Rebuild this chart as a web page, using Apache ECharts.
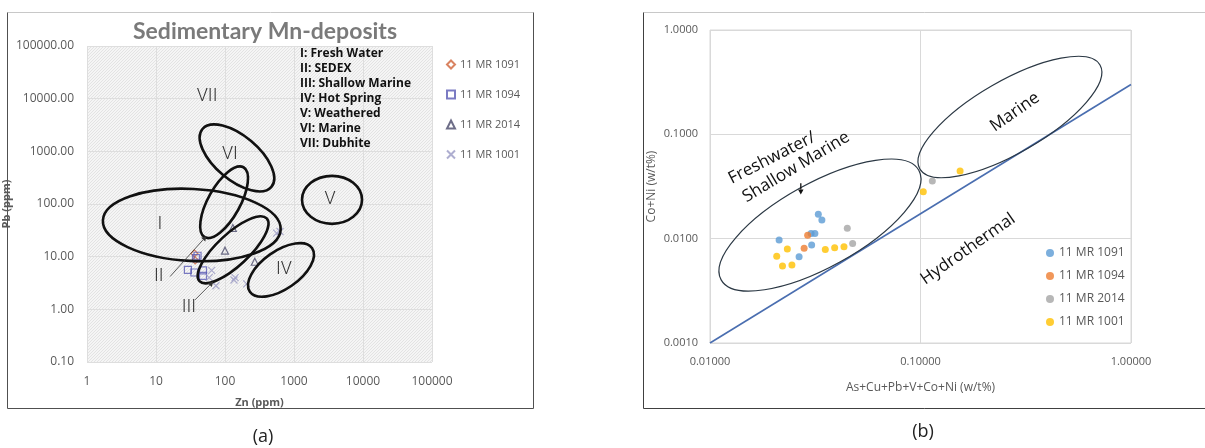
<!DOCTYPE html>
<html>
<head>
<meta charset="utf-8">
<script src="https://cdn.jsdelivr.net/npm/echarts@6/dist/echarts.min.js"></script>
<style>
  html, body { margin: 0; background: #fff; }
  #chart { width: 1205px; height: 448px; }
</style>
</head>
<body>
<div id="chart"></div>
<script>
// ---- panel (a): Zn vs Pb (ppm), log-log ----
const znRange = [1, 100000]
const pbRange = [0.1, 100000]
const a1091 = [[36, 11.5], [37, 8.5]]
const a1094 = [[29, 5.6], [36, 5.0], [40, 10.4], [38, 9.4], [48, 5.5], [48, 4.3]]
const a2014 = [[130, 35], [100, 13], [270, 8]]
const a1001 = [[64, 5.5], [59, 4.0], [74, 2.8], [140, 4.0], [135, 3.6], [206, 3.05], [627, 30], [560, 28]]

// fields: centre x, centre y, half-axis px, half-axis px, tilt deg
const aFields = [
  [33, 40, 89, 36, -3],      // I
  [97, 108, 40, 16, 61],
  [149, 750, 45, 22, -40],   // VI
  [131, 13.5, 46, 16, 43],   // II / III
  [648, 5.6, 38, 19, 35],    // IV
  [3556, 120, 30, 24, 0]     // V
]
const aLabelPos = [[55, 10770], [118, 855], [3325, 120], [11.4, 40], [11, 4.14], [30, 1.07], [716, 5.6]]
const aLabelText = ['VII', 'VI', 'V', 'I', 'II', 'III', 'IV']
const aArrows = [[16, 4.2, 54, 24.8], [36.7, 1.51, 67.7, 3.37]]
const aKey = ['I: Fresh Water', 'II: SEDEX', 'III: Shallow Marine', 'IV: Hot Spring', 'V: Weathered', 'VI: Marine', 'VII: Dubhite']

// ---- panel (b): sum of metals vs Co+Ni (w/t%), log-log ----
const sumRange = [0.01, 1]
const coniRange = [0.001, 1]
const b1091 = [[0.0213, 0.0097], [0.0327, 0.0171], [0.034, 0.0151], [0.0315, 0.0112], [0.0302, 0.0112], [0.0304, 0.0087], [0.0265, 0.0067]]
const b1094 = [[0.0291, 0.0108], [0.028, 0.0081]]
const b2014 = [[0.0449, 0.01255], [0.0476, 0.009], [0.1138, 0.0357]]
const b1001 = [[0.02075, 0.0068], [0.0233, 0.00795], [0.0221, 0.00546], [0.0245, 0.00558], [0.0353, 0.00789], [0.0391, 0.00818], [0.0433, 0.00836], [0.1031, 0.0282], [0.1542, 0.0445]]
const bBoundary = [[0.01, 0.001], [1, 0.3]]
const bFields = [
  [0.0333, 0.0135, 113, 42, 29],   // freshwater / shallow marine
  [0.266, 0.1466, 104, 36, 30]     // marine
]
const bLabelPos = [[0.0197, 0.0593], [0.02565, 0.0486], [0.281, 0.1636], [0.168, 0.00794]]
const bLabelText = ['Freshwater/', 'Shallow Marine', 'Marine', 'Hydrothermal']
const bLabelTilt = [27, 31, 35, 35]
const bArrows = [[0.027, 0.034, 0.027, 0.0265]]

const names = ['11 MR 1091', '11 MR 1094', '11 MR 2014', '11 MR 1001']

// hatched background for panel (a)
const hatch = document.createElement('canvas')
hatch.width = 3; hatch.height = 3
const hc = hatch.getContext('2d')
hc.fillStyle = '#f5f5f5'; hc.fillRect(0, 0, 3, 3)
hc.fillStyle = '#e3e3e3'
hc.fillRect(0, 2, 1, 1); hc.fillRect(1, 1, 1, 1); hc.fillRect(2, 0, 1, 1)

const fontA = '"Open Sans", "Noto Sans", sans-serif'

function fieldSeries(idx, list, color, width) {
  return {
    type: 'custom', xAxisIndex: idx, yAxisIndex: idx, silent: true, z: 4,
    encode: { x: 0, y: 1 }, data: list,
    renderItem: (p, api) => {
      const c = api.coord([api.value(0), api.value(1)])
      return {
        type: 'ellipse', x: c[0], y: c[1], rotation: api.value(4) * Math.PI / 180,
        shape: { cx: 0, cy: 0, rx: api.value(2), ry: api.value(3) },
        style: { fill: 'none', stroke: color, lineWidth: width }
      }
    }
  }
}

function labelSeries(idx, list, texts, tilts, font, color) {
  return {
    type: 'custom', xAxisIndex: idx, yAxisIndex: idx, silent: true, z: 5,
    encode: { x: 0, y: 1 }, data: list,
    renderItem: (p, api) => {
      const c = api.coord([api.value(0), api.value(1)])
      return {
        type: 'text', x: c[0], y: c[1],
        rotation: (tilts ? tilts[p.dataIndex] : 0) * Math.PI / 180,
        style: { text: texts[p.dataIndex], font: font, fill: color, align: 'center', verticalAlign: 'middle' }
      }
    }
  }
}

function arrowSeries(idx, list, color, width, head) {
  return {
    type: 'custom', xAxisIndex: idx, yAxisIndex: idx, silent: true, z: 5,
    encode: { x: [0, 2], y: [1, 3] }, data: list,
    renderItem: (p, api) => {
      const s = api.coord([api.value(0), api.value(1)])
      const e = api.coord([api.value(2), api.value(3)])
      const ang = Math.atan2(e[1] - s[1], e[0] - s[0])
      const h = head, w = head * 0.55
      const bx = e[0] - h * Math.cos(ang), by = e[1] - h * Math.sin(ang)
      return {
        type: 'group',
        children: [
          { type: 'line', shape: { x1: s[0], y1: s[1], x2: bx, y2: by }, style: { stroke: color, lineWidth: width } },
          { type: 'polygon', shape: { points: [e, [bx - w * Math.sin(ang), by + w * Math.cos(ang)], [bx + w * Math.sin(ang), by - w * Math.cos(ang)]] }, style: { fill: color } }
        ]
      }
    }
  }
}

const chart = echarts.init(document.getElementById('chart'))

const logLabelA = { color: '#595959', fontSize: 12, fontFamily: fontA }
const logLabelB = { color: '#595959', fontSize: 11, fontFamily: fontA }

chart.setOption({
  backgroundColor: '#fff',
  animation: false,
  grid: [
    { left: 87, top: 46, width: 345, height: 316, show: true, borderWidth: 0, backgroundColor: { image: hatch, repeat: 'repeat' } },
    { left: 710, top: 30, width: 421, height: 313, show: true, borderColor: '#d9d9d9', borderWidth: 1 }
  ],
  xAxis: [
    {
      type: 'log', logBase: 10, gridIndex: 0, min: znRange[0], max: znRange[1],
      name: 'Zn (ppm)', nameLocation: 'middle', nameGap: 35,
      nameTextStyle: { color: '#595959', fontSize: 11, fontWeight: 'bold', fontFamily: fontA },
      axisLine: { show: false }, axisTick: { show: false },
      axisLabel: Object.assign({ margin: 14, formatter: v => String(Math.round(v)) }, logLabelA),
      splitLine: { show: true, lineStyle: { color: '#dedede' } }, minorSplitLine: { show: false }
    },
    {
      type: 'log', logBase: 10, gridIndex: 1, min: sumRange[0], max: sumRange[1],
      name: 'As+Cu+Pb+V+Co+Ni (w/t%)', nameLocation: 'middle', nameGap: 39,
      nameTextStyle: { color: '#595959', fontSize: 12, fontFamily: fontA },
      axisLine: { show: false }, axisTick: { show: false },
      axisLabel: Object.assign({ margin: 13, formatter: v => v.toFixed(5) }, logLabelB),
      splitLine: { show: true, lineStyle: { color: '#d9d9d9' } }
    }
  ],
  yAxis: [
    {
      type: 'log', logBase: 10, gridIndex: 0, min: pbRange[0], max: pbRange[1],
      name: 'Pb (ppm)', nameLocation: 'middle', nameGap: 68,
      nameTextStyle: { color: '#595959', fontSize: 11, fontWeight: 'bold', fontFamily: fontA },
      axisLine: { show: false }, axisTick: { show: false },
      axisLabel: Object.assign({ margin: 13, formatter: v => v.toFixed(2) }, logLabelA),
      splitLine: { show: true, lineStyle: { color: '#dedede' } }
    },
    {
      type: 'log', logBase: 10, gridIndex: 1, min: coniRange[0], max: coniRange[1],
      name: 'Co+Ni (w/t%)', nameLocation: 'middle', nameGap: 52,
      nameTextStyle: { color: '#595959', fontSize: 12, fontFamily: fontA },
      axisLine: { show: false }, axisTick: { show: false },
      axisLabel: Object.assign({ margin: 12, formatter: v => v.toFixed(4) }, logLabelB),
      splitLine: { show: true, lineStyle: { color: '#d9d9d9' } }
    }
  ],
  legend: [
    {
      data: names, orient: 'vertical', left: 441, top: 54, itemGap: 19,
      itemWidth: 8, itemHeight: 8, textStyle: { color: '#595959', fontSize: 11, fontFamily: fontA },
      selectedMode: false
    },
    {
      data: names.map(n => n + ' '), orient: 'vertical', left: 1041, top: 242, itemGap: 11,
      itemWidth: 8, itemHeight: 8, icon: 'circle', formatter: n => n.trim(),
      textStyle: { color: '#595959', fontSize: 12, fontFamily: fontA }, selectedMode: false
    }
  ],
  graphic: [
    { type: 'line', shape: { x1: 7.5, y1: 12.5, x2: 533.5, y2: 12.5 }, style: { stroke: '#c8c8c8' } },
    { type: 'polyline', shape: { points: [[7.5, 12.5], [7.5, 408.5], [533.5, 408.5], [533.5, 12.5]] }, style: { stroke: '#505050', fill: 'none' } },
    { type: 'line', shape: { x1: 643.5, y1: 12.5, x2: 1205, y2: 12.5 }, style: { stroke: '#c8c8c8' } },
    { type: 'polyline', shape: { points: [[643.5, 12.5], [643.5, 408.5], [1205, 408.5]] }, style: { stroke: '#404040', fill: 'none' } },
    { type: 'text', x: 265, y: 32, style: { text: 'Sedimentary Mn-deposits', font: 'bold 23px Lato, "Open Sans", sans-serif', fill: '#7a7a7a', align: 'center', verticalAlign: 'middle' } },
    { type: 'text', x: 300, y: 46, z: 10, style: { text: aKey.join('\n'), font: 'bold 12px "Open Sans", sans-serif', lineHeight: 15, fill: '#111', align: 'left', verticalAlign: 'top' } },
    { type: 'text', x: 263, y: 437, style: { text: '(a)', font: '18px "Open Sans", sans-serif', fill: '#222', align: 'center', verticalAlign: 'middle' } },
    { type: 'text', x: 923, y: 432, style: { text: '(b)', font: '18px "Open Sans", sans-serif', fill: '#222', align: 'center', verticalAlign: 'middle' } }
  ],
  series: [
    // panel (a) points
    { name: names[0], type: 'scatter', xAxisIndex: 0, yAxisIndex: 0, data: a1091, symbol: 'diamond', symbolSize: 7, z: 3,
      itemStyle: { color: 'transparent', borderColor: '#d0643a', borderWidth: 1.2 } },
    { name: names[1], type: 'scatter', xAxisIndex: 0, yAxisIndex: 0, data: a1094, symbol: 'rect', symbolSize: 7, z: 3,
      itemStyle: { color: 'transparent', borderColor: '#5a5ab4', borderWidth: 1.2 } },
    { name: names[2], type: 'scatter', xAxisIndex: 0, yAxisIndex: 0, data: a2014, symbol: 'triangle', symbolSize: 7, z: 3,
      itemStyle: { color: 'transparent', borderColor: '#4a4a6a', borderWidth: 1.2 } },
    { name: names[3], type: 'scatter', xAxisIndex: 0, yAxisIndex: 0, data: a1001, symbol: 'path://M0,0L10,10M10,0L0,10', symbolSize: 7, z: 3,
      itemStyle: { color: 'transparent', borderColor: '#9a9ac4', borderWidth: 1.2 } },
    fieldSeries(0, aFields, '#111', 2.6),
    labelSeries(0, aLabelPos, aLabelText, null, '300 18px Roboto, sans-serif', '#333'),
    arrowSeries(0, aArrows, '#333', 0.8, 5),
    // panel (b)
    { name: 'boundary', type: 'line', xAxisIndex: 1, yAxisIndex: 1, data: bBoundary, symbol: 'none', silent: true, z: 2,
      lineStyle: { color: '#4a6eb0', width: 1.6 } },
    { name: names[0] + ' ', type: 'scatter', xAxisIndex: 1, yAxisIndex: 1, data: b1091, symbolSize: 7, itemStyle: { color: '#5b9bd5' } },
    { name: names[1] + ' ', type: 'scatter', xAxisIndex: 1, yAxisIndex: 1, data: b1094, symbolSize: 7, itemStyle: { color: '#ed7d31' } },
    { name: names[2] + ' ', type: 'scatter', xAxisIndex: 1, yAxisIndex: 1, data: b2014, symbolSize: 7, itemStyle: { color: '#a5a5a5' } },
    { name: names[3] + ' ', type: 'scatter', xAxisIndex: 1, yAxisIndex: 1, data: b1001, symbolSize: 7, itemStyle: { color: '#ffc000' } },
    fieldSeries(1, bFields, '#2b3844', 1.2),
    labelSeries(1, bLabelPos, bLabelText, bLabelTilt, '17px "Open Sans", sans-serif', '#111'),
    arrowSeries(1, bArrows, '#111', 1.3, 5)
  ]
})

window.addEventListener('resize', () => chart.resize())
</script>
</body>
</html>
